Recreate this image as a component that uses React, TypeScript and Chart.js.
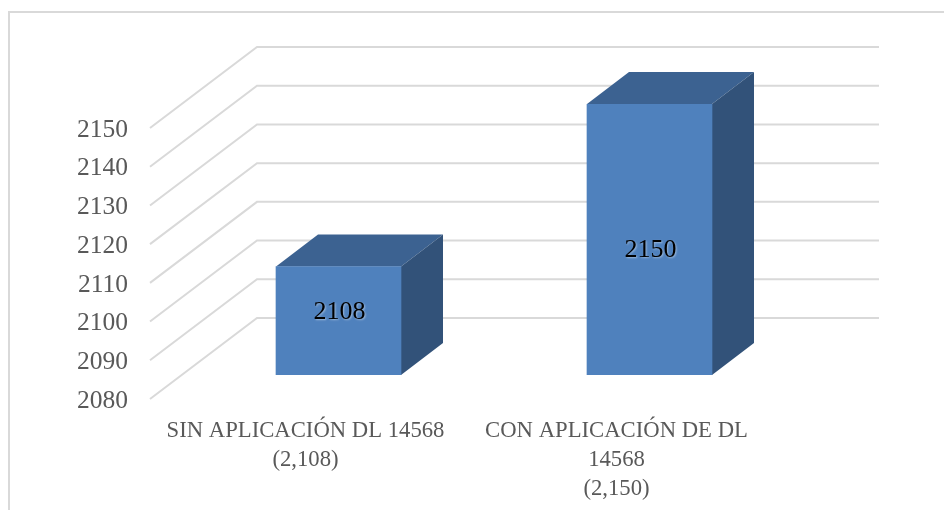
import React, { useEffect, useRef } from "react";
import { Chart, registerables } from "chart.js";

Chart.register(...registerables);

const categories = [
  ["SIN APLICACIÓN DL 14568", "(2,108)"],
  ["CON APLICACIÓN DE DL", "14568", "(2,150)"],
];
const values = [2108, 2150];
const axisMin = 2080;
const axisMax = 2150;
const axisStep = 10;

const FONT = "'Liberation Serif', serif";
const GRID = "#D9D9D9";
const FRONT = "#4F81BD";
const TOP = "#3C6291";
const SIDE = "#325279";
const TEXT = "#595959";

// Oblique projection of the 3D chart
const FLOOR_SHIFT_X = -33; // bar plane -> front edge of floor
const FLOOR_SHIFT_Y = 24;
const WALL_DX = 107; // front edge -> back wall
const WALL_DY = -81;
const WALL_RIGHT = 879;
const BAR_DX = 42; // bar depth
const BAR_DY = -32;
const LABEL_SHIFT = [-9, 11];

const poly = (ctx: CanvasRenderingContext2D, pts: number[][], color: string) => {
  ctx.fillStyle = color;
  ctx.beginPath();
  pts.forEach(([x, y], i) => (i ? ctx.lineTo(x, y) : ctx.moveTo(x, y)));
  ctx.closePath();
  ctx.fill();
};

const threeD = {
  id: "threeD",
  beforeDatasetsDraw(chart: any) {
    const { ctx, chartArea } = chart;
    const yScale = chart.scales.y;
    ctx.save();
    ctx.strokeStyle = GRID;
    ctx.lineWidth = 2;
    yScale.ticks.forEach((t: any) => {
      const y = yScale.getPixelForValue(t.value) + FLOOR_SHIFT_Y;
      const x = chartArea.left + FLOOR_SHIFT_X;
      ctx.beginPath();
      ctx.moveTo(x, y);
      ctx.lineTo(x + WALL_DX, y + WALL_DY);
      ctx.lineTo(WALL_RIGHT, y + WALL_DY);
      ctx.stroke();
    });
    chart.getDatasetMeta(0).data.forEach((bar: any) => {
      const p = bar.getProps(["x", "y", "base", "width"], true);
      const l = p.x - p.width / 2;
      const r = p.x + p.width / 2;
      poly(ctx, [[l, p.y], [l + BAR_DX, p.y + BAR_DY], [r + BAR_DX, p.y + BAR_DY], [r, p.y]], TOP);
      poly(ctx, [[r, p.y], [r + BAR_DX, p.y + BAR_DY], [r + BAR_DX, p.base + BAR_DY], [r, p.base]], SIDE);
    });
    ctx.restore();
  },
  afterDatasetsDraw(chart: any) {
    const { ctx } = chart;
    ctx.save();
    ctx.font = `26px ${FONT}`;
    ctx.textAlign = "center";
    ctx.textBaseline = "middle";
    ctx.fillStyle = "#000000";
    ctx.shadowColor = "rgba(255,255,255,0.45)";
    ctx.shadowBlur = 2;
    ctx.shadowOffsetX = 1;
    ctx.shadowOffsetY = 1;
    chart.getDatasetMeta(0).data.forEach((bar: any, i: number) => {
      const p = bar.getProps(["x", "y", "base"], true);
      ctx.fillText(String(values[i]), p.x + 1, (p.y + p.base) / 2 + LABEL_SHIFT[i]);
    });
    ctx.restore();
  },
};

export default function App() {
  const ref = useRef<HTMLCanvasElement>(null);
  useEffect(() => {
    const chart = new Chart(ref.current as HTMLCanvasElement, {
      type: "bar",
      data: {
        labels: categories as any,
        datasets: [
          {
            data: values,
            base: axisMin,
            backgroundColor: FRONT,
            borderWidth: 0,
            barThickness: 125,
          },
        ],
      },
      plugins: [threeD],
      options: {
        animation: false,
        responsive: false,
        maintainAspectRatio: false,
        layout: { padding: { left: 0, right: 139, top: 104, bottom: 0 } },
        plugins: { legend: { display: false }, tooltip: { enabled: false }, title: { display: false } },
        scales: {
          x: {
            grid: { display: false, drawTicks: false },
            border: { display: false },
            afterFit: (s: any) => {
              s.height = 135;
            },
            ticks: {
              color: TEXT,
              font: { family: FONT, size: 22.7, lineHeight: 29 / 22.7 },
              labelOffset: FLOOR_SHIFT_X,
              padding: 42,
              maxRotation: 0,
              minRotation: 0,
              autoSkip: false,
            },
          },
          y: {
            min: axisMin,
            max: axisMax,
            grid: { display: false, drawTicks: false },
            border: { display: false },
            afterFit: (s: any) => {
              s.width = 183;
            },
            ticks: {
              stepSize: axisStep,
              color: TEXT,
              font: { family: FONT, size: 25.5 },
              labelOffset: 26,
              padding: 55,
              callback: (v: any) => String(v),
            },
          },
        },
      },
    } as any);
    return () => chart.destroy();
  }, []);
  return (
    <div style={{ position: "fixed", left: 0, top: 0, width: 944, height: 510, background: "#fff", overflow: "hidden" }}>
      <div
        style={{
          position: "absolute",
          left: 8,
          top: 11,
          width: 960,
          height: 520,
          border: `2px solid ${GRID}`,
          boxSizing: "border-box",
        }}
      />
      <canvas ref={ref} width={944} height={510} style={{ position: "absolute", left: 0, top: 0, width: 944, height: 510 }} />
    </div>
  );
}
